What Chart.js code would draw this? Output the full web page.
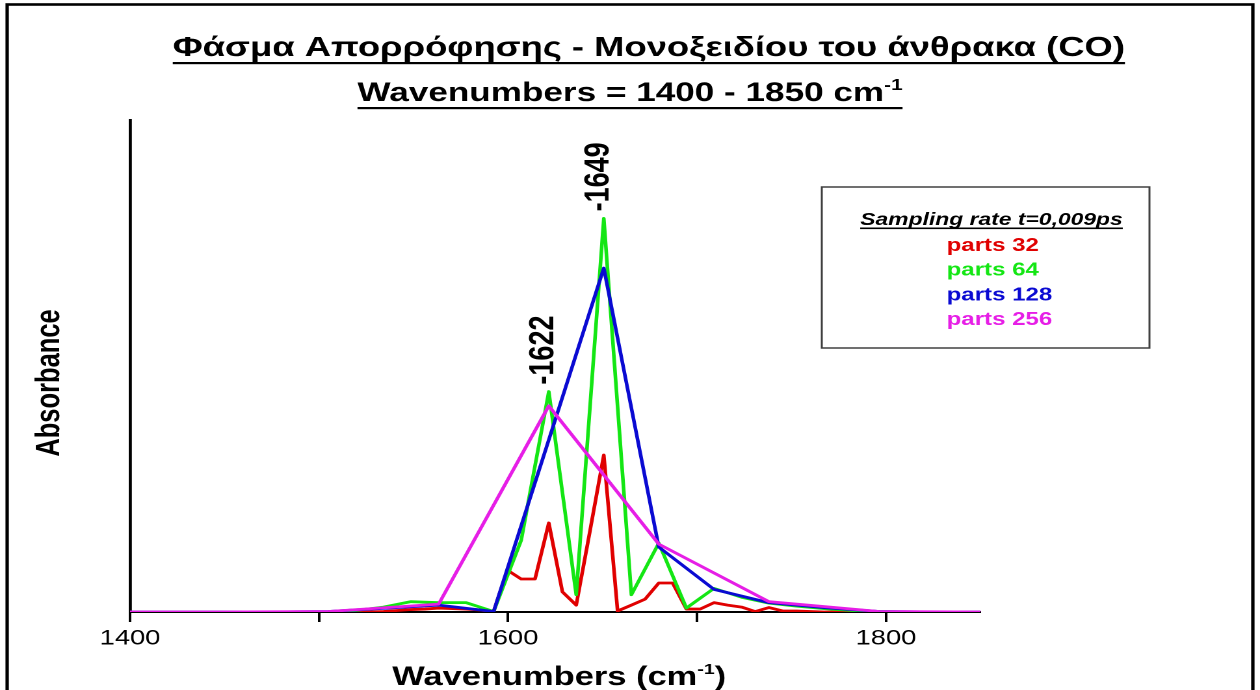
<!DOCTYPE html>
<html>
<head>
<meta charset="utf-8">
<script src="https://cdn.jsdelivr.net/npm/chart.js@4.4.1/dist/chart.umd.min.js"></script>
<style>
html,body{margin:0;padding:0;background:#fff;overflow:hidden;width:1260px;height:690px;}
#wrap{position:absolute;left:0;top:0;width:969px;height:690px;transform:scaleX(1.3003);transform-origin:0 0;}
</style>
</head>
<body>
<div id="wrap"><canvas id="c"></canvas></div>
<script>
// ---------- data ----------
const seriesLabels = ['parts 32', 'parts 64', 'parts 128', 'parts 256'];
const seriesColors = ['#e00000', '#14e614', '#0a0ad2', '#e61ee6'];

const wn32  = [1400, 1526.9, 1534.1, 1541.4, 1548.7, 1556.0, 1563.3, 1570.6, 1577.9, 1585.1, 1592.4, 1599.7, 1607.0, 1614.3, 1621.6, 1628.8, 1636.1, 1643.4, 1650.7, 1658.0, 1665.3, 1672.5, 1679.8, 1687.1, 1694.4, 1701.7, 1709.0, 1716.2, 1723.6, 1730.8, 1738.1, 1745.4, 1752.7, 1760.0, 1767.3, 1850];
const abs32 = [0, 0, 0.001, 0.003, 0.005, 0.006, 0.008, 0.007, 0.006, 0.004, 0.001, 0.085, 0.067, 0.067, 0.181, 0.041, 0.014, 0.165, 0.319, 0.002, 0.014, 0.026, 0.059, 0.059, 0.006, 0.006, 0.019, 0.014, 0.010, 0.001, 0.009, 0.002, 0.002, 0.001, 0, 0];

const wn64  = [1400, 1490.4, 1505.0, 1519.6, 1534.1, 1548.7, 1563.3, 1577.9, 1592.4, 1607.0, 1621.6, 1636.1, 1650.7, 1665.3, 1679.8, 1694.4, 1709.0, 1723.6, 1738.1, 1752.7, 1767.3, 1781.8, 1796.4, 1811.0, 1850];
const abs64 = [0, 0, 0, 0.003, 0.010, 0.021, 0.019, 0.019, 0.001, 0.146, 0.448, 0.035, 0.800, 0.035, 0.140, 0.008, 0.048, 0.030, 0.018, 0.012, 0.007, 0.003, 0.001, 0, 0];

const wn128  = [1400, 1475.9, 1505.0, 1534.1, 1563.3, 1592.4, 1621.6, 1650.7, 1679.8, 1709.0, 1738.1, 1767.3, 1796.4, 1825.5, 1850];
const abs128 = [0, 0, 0.001, 0.0075, 0.014, 0.001, 0.350, 0.699, 0.132, 0.046, 0.019, 0.009, 0.001, 0, 0];

const wn256  = [1400, 1446.7, 1505.0, 1563.3, 1621.6, 1679.8, 1738.1, 1796.4, 1850];
const abs256 = [0, 0, 0.001, 0.016, 0.419, 0.138, 0.021, 0.001, 0];

const xTicks = [1400, 1500, 1600, 1700, 1800];
const xTickLabels = ['1400', '', '1600', '', '1800'];

const peakWn = [1650.7, 1621.6];
const peakAbs = [0.800, 0.448];
const peakLabels = ['-1649', '-1622'];

const titleLine1 = 'Φάσμα Απορρόφησης - Μονοξειδίου του άνθρακα (CO)';
const titleLine2 = 'Wavenumbers = 1400 - 1850 cm';
const unitSup = '-1';
const yTitle = 'Absorbance';
const xTitleMain = 'Wavenumbers (cm';
const xTitleEnd = ')';
const legendTitle = 'Sampling rate t=0,009ps';

// ---------- drawing helpers ----------
const FONT = '"Liberation Sans", Arial, Helvetica, sans-serif';

function drawRich(ctx, parts, cx, baseline, underline) {
  let total = 0;
  parts.forEach(p => {
    ctx.font = (p.style || '') + ' ' + p.weight + ' ' + p.size + 'px ' + FONT;
    p.w = ctx.measureText(p.t).width;
    total += p.w;
  });
  let x = cx - total / 2;
  ctx.textAlign = 'left';
  ctx.textBaseline = 'alphabetic';
  parts.forEach(p => {
    ctx.font = (p.style || '') + ' ' + p.weight + ' ' + p.size + 'px ' + FONT;
    ctx.fillText(p.t, x, baseline - (p.rise || 0));
    x += p.w;
  });
  if (underline) {
    ctx.fillRect(cx - total / 2, baseline + underline.off, total, underline.w);
  }
}

const decor = {
  id: 'decor',
  afterDatasetsDraw(chart) {
    const ctx = chart.ctx;
    const xs = chart.scales.x, ys = chart.scales.y;
    ctx.save();
    ctx.fillStyle = '#000';
    ctx.font = 'bold 27px ' + FONT;
    ctx.textAlign = 'left';
    ctx.textBaseline = 'middle';
    peakLabels.forEach((lab, i) => {
      const px = xs.getPixelForValue(peakWn[i]);
      const py = ys.getPixelForValue(peakAbs[i]);
      ctx.save();
      ctx.translate(px - 4, py - 7);
      ctx.rotate(-Math.PI / 2);
      ctx.fillText(lab, 0, 0);
      ctx.restore();
    });
    ctx.restore();
  },
  afterDraw(chart) {
    const ctx = chart.ctx;
    ctx.save();
    // outer frame
    ctx.strokeStyle = '#000';
    ctx.lineWidth = 2.6;
    ctx.strokeRect(5.5, 4.5, 958, 720);

    ctx.fillStyle = '#000';
    // titles
    drawRich(ctx, [{t: titleLine1, size: 28, weight: 'bold'}], 499, 56, {off: 6, w: 2.2});
    drawRich(ctx, [{t: titleLine2, size: 27, weight: 'bold'}, {t: unitSup, size: 16, weight: 'bold', rise: 11}], 484.5, 101, {off: 6, w: 2.2});

    // y title
    ctx.save();
    ctx.translate(38.5, 383);
    ctx.rotate(-Math.PI / 2);
    ctx.font = 'bold 25.5px ' + FONT;
    ctx.textAlign = 'center';
    ctx.textBaseline = 'middle';
    ctx.fillText(yTitle, 0, 0);
    ctx.restore();

    // x title
    drawRich(ctx, [
      {t: xTitleMain, size: 26.5, weight: 'bold'},
      {t: unitSup, size: 15, weight: 'bold', rise: 11},
      {t: xTitleEnd, size: 26.5, weight: 'bold'}
    ], 430, 685);

    // legend box
    ctx.strokeStyle = '#404040';
    ctx.lineWidth = 1.5;
    ctx.strokeRect(632, 187, 252, 161);
    ctx.fillStyle = '#000';
    drawRich(ctx, [{t: legendTitle, size: 17.6, weight: 'bold', style: 'italic'}], 762.5, 225, {off: 2.5, w: 1.6});
    ctx.font = 'bold 18.5px ' + FONT;
    ctx.textAlign = 'left';
    ctx.textBaseline = 'alphabetic';
    const baselines = [251, 275.7, 300.3, 325];
    chart.data.datasets.forEach((ds, i) => {
      ctx.fillStyle = ds.borderColor;
      ctx.fillText(ds.label, 728, baselines[i]);
    });
    ctx.restore();
  }
};

function pts(xa, ya) { return xa.map((x, i) => ({x: x, y: ya[i]})); }

const datasets = [
  {label: seriesLabels[0], data: pts(wn32, abs32), borderColor: seriesColors[0], order: 4},
  {label: seriesLabels[1], data: pts(wn64, abs64), borderColor: seriesColors[1], order: 3},
  {label: seriesLabels[2], data: pts(wn128, abs128), borderColor: seriesColors[2], order: 2},
  {label: seriesLabels[3], data: pts(wn256, abs256), borderColor: seriesColors[3], order: 1}
];

new Chart(document.getElementById('c'), {
  type: 'line',
  data: {datasets: datasets},
  options: {
    responsive: true,
    maintainAspectRatio: false,
    devicePixelRatio: 2,
    animation: false,
    layout: {padding: {left: 100, right: 215, top: 120, bottom: 0}},
    elements: {
      point: {radius: 0, hoverRadius: 0},
      line: {tension: 0, borderWidth: 2.8, fill: false, borderJoinStyle: 'round'}
    },
    plugins: {legend: {display: false}, tooltip: {enabled: false}, title: {display: false}},
    scales: {
      x: {
        type: 'linear', min: 1400, max: 1850,
        afterBuildTicks: s => { s.ticks = xTicks.map(v => ({value: v})); },
        afterFit: s => { s.height = 78; },
        ticks: {
          autoSkip: false, maxRotation: 0, padding: 4, color: '#000',
          font: {family: FONT, size: 21},
          callback: v => { const i = xTicks.indexOf(v); return i >= 0 ? xTickLabels[i] : ''; }
        },
        grid: {display: true, drawOnChartArea: false, drawTicks: true, tickLength: 10, tickWidth: 2, tickColor: '#000'},
        border: {display: true, color: '#000', width: 2}
      },
      y: {
        min: 0, max: 1,
        afterFit: s => { s.width = 0; },
        ticks: {display: false},
        grid: {display: false},
        border: {display: true, color: '#000', width: 2.4}
      }
    }
  },
  plugins: [decor]
});
</script>
</body>
</html>
